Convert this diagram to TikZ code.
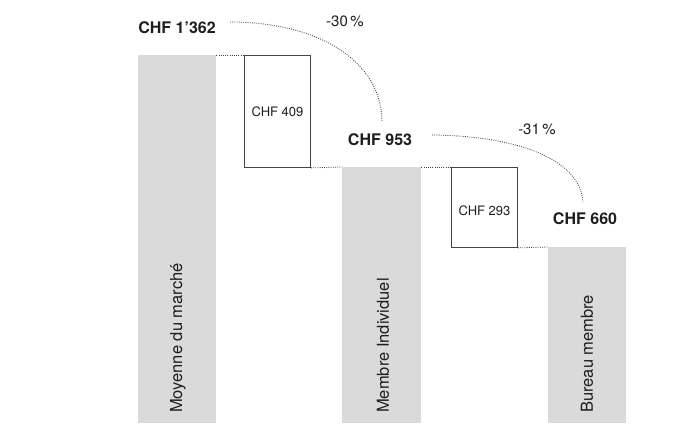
\documentclass[tikz,border=0pt]{standalone}
\usepackage{fontspec}
\setmainfont{TeX Gyre Heros}
\definecolor{bargrey}{HTML}{DADADA}
\definecolor{ink}{HTML}{1E1E1E}
\definecolor{boxline}{HTML}{444444}
\tikzset{
  bar/.style={fill=bargrey, draw=none, anchor=north west, inner sep=0pt},
  stepbox/.style={draw=boxline, line width=0.9pt, fill=white, anchor=north west, inner sep=0pt},
  dotline/.style={draw=ink!85, line width=0.8pt, dash pattern=on 0.9pt off 1.3pt},
  biglab/.style={font=\fontsize{16}{18}\selectfont\bfseries, text=ink, inner sep=0pt},
  pct/.style={font=\fontsize{15}{17}\selectfont, text=ink, inner sep=0pt},
  boxlab/.style={font=\fontsize{13}{15}\selectfont, text=ink, inner sep=0pt},
  barlab/.style={font=\fontsize{16.5}{18}\selectfont, text=ink, rotate=90, anchor=west, inner sep=0pt}
}
\begin{document}
\begin{tikzpicture}[x=1pt,y=-1pt]
\useasboundingbox (0,0) rectangle (674,423);
\fill[white] (0,0) rectangle (674,423);
% bars
\node[bar, minimum width=78pt, minimum height=368pt] (b1) at (138,55) {};
\node[bar, minimum width=79pt, minimum height=256pt] (b2) at (342,167) {};
\node[bar, minimum width=78pt, minimum height=176pt] (b3) at (548,247) {};
% step boxes
\node[stepbox, minimum width=66pt, minimum height=112pt] (s1) at (244,55) {};
\node[stepbox, minimum width=66pt, minimum height=80pt] (s2) at (451,167) {};
\node[boxlab] at (s1.center) {CHF 409};
\node[boxlab] at ([yshift=-3pt]s2.center) {CHF 293};
% dotted level lines
\draw[dotline] (b1.north east) -- (s1.north west);
\draw[dotline] (s1.south east) -- (b2.north west);
\draw[dotline] (b2.north east) -- (s2.north west);
\draw[dotline] (s2.south east) -- (b3.north west);
% value labels
\node[biglab] (v1) at (177,28) {CHF 1’362};
\node[biglab] (v2) at (380,140) {CHF 953};
\node[biglab] (v3) at (585,219) {CHF 660};
\node[pct] (p1) at (345,21) {-30\,\%};
\node[pct] (p2) at (537,129) {-31\,\%};
% arcs
\coordinate (a1s) at (230,22);
\coordinate (a1e) at (382,122);
\coordinate (a2s) at (432,135);
\coordinate (a2e) at (583,202);
\draw[dotline] (a1s) .. controls (320,22) and (382,62) .. (a1e);
\draw[dotline] (a2s) .. controls (520,136) and (580,160) .. (a2e);
% bar labels
\node[barlab] (l1) at (178,413) {Moyenne du marché};
\node[barlab] (l2) at (383,413) {Membre Individuel};
\node[barlab] (l3) at (587,413) {Bureau membre};
\end{tikzpicture}
\end{document}
